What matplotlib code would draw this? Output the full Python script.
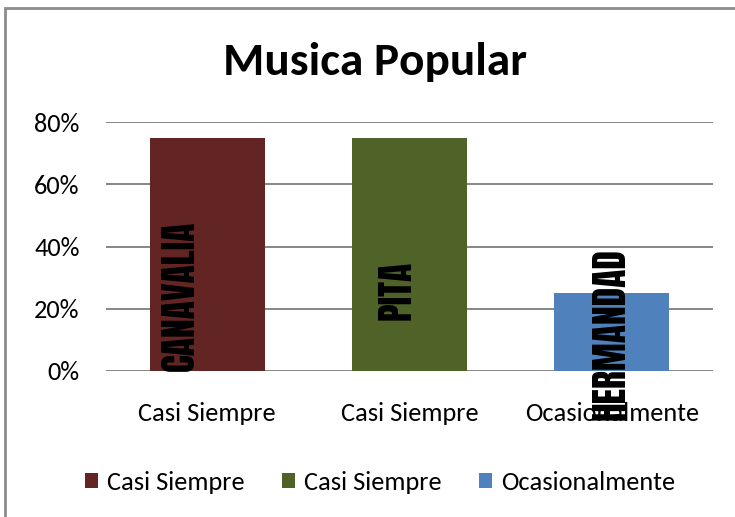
import matplotlib.pyplot as plt
from matplotlib.patches import Patch, Rectangle
from matplotlib.ticker import PercentFormatter

# datos
categorias = ["Casi Siempre", "Casi Siempre", "Ocasionalmente"]
valores = [0.75, 0.75, 0.25]
etiquetas = ["CANAVALIA", "PITA", "HERMANDAD"]
colores = ["#632523", "#4F6228", "#4F81BD"]
# posicion (x, y) del centro de cada etiqueta de datos
pos_etiquetas = [(-0.134, 0.243), (0.938, 0.259), (1.996, 0.118)]
ticks_y = [0, 0.2, 0.4, 0.6, 0.8]

fig = plt.figure(figsize=(7.35, 5.17), dpi=100)
ax = fig.add_axes([106 / 735, 146 / 517, 607 / 735, 249 / 517])

x = range(len(categorias))
ax.bar(x, valores, width=0.57, color=colores, zorder=2)

ax.set_xlim(-0.5, 2.5)
ax.set_ylim(0, 0.8)
ax.set_yticks(ticks_y)
ax.yaxis.set_major_formatter(PercentFormatter(1.0, decimals=0))
ax.set_xticks(list(x))
ax.set_xticklabels(categorias)
ax.grid(axis="y", color="#868686", linewidth=1.4, zorder=0)
for s in ax.spines.values():
    s.set_visible(False)
ax.tick_params(length=0, labelsize=19)
ax.tick_params(axis="x", pad=22)
ax.tick_params(axis="y", pad=19)
for t in ax.get_xticklabels() + ax.get_yticklabels():
    t.set_fontfamily("Carlito")

# etiquetas de datos verticales
for (px, py), txt in zip(pos_etiquetas, etiquetas):
    ax.text(px, py, txt, rotation=90, ha="center", va="center",
            fontsize=27, family="Anton", color="black", zorder=3, clip_on=False)

fig.text(375 / 735, 1 - 62 / 517, "Musica Popular", ha="center", va="center",
         fontsize=34, fontweight="bold", family="Carlito")

handles = [Patch(facecolor=c) for c in colores]
fig.legend(handles, categorias, loc="center", bbox_to_anchor=(380 / 735, 1 - 482 / 517),
           ncol=3, frameon=False, prop={"family": "Carlito", "size": 19},
           handlelength=0.5, handleheight=0.5, handletextpad=0.35, columnspacing=1.4)

# marco del grafico (solo se ven arriba e izquierda)
fig.patches.append(Rectangle((5 / 735, -0.1), 1.2, 1 - 8 / 517 + 0.1, transform=fig.transFigure,
                             fill=False, edgecolor="#8c8c8c", linewidth=2))

plt.savefig("out.png", dpi=100)
